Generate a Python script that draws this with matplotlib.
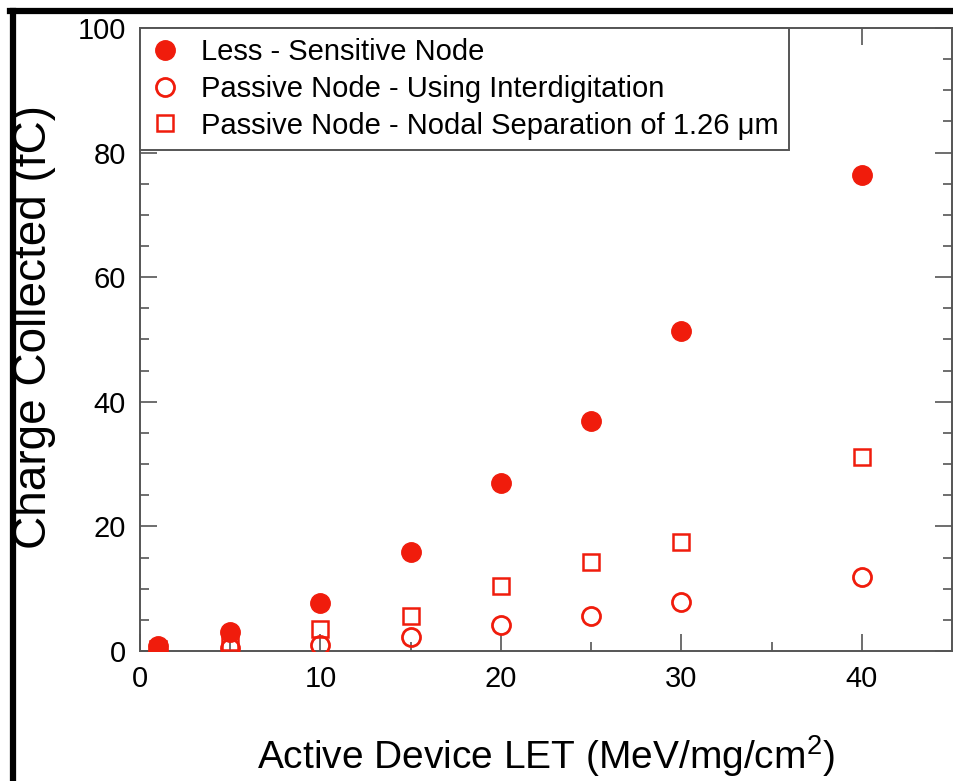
import matplotlib
matplotlib.use('Agg')
from matplotlib import pyplot as plt
from matplotlib.lines import Line2D

plt.rcParams['font.family'] = ['Liberation Sans', 'DejaVu Sans']
plt.rcParams['mathtext.default'] = 'regular'

# data
let = [1, 5, 10, 15, 20, 25, 30, 40]
less_sensitive = [0.8, 3.0, 7.7, 15.9, 27.0, 36.9, 51.4, 76.4]
interdigitation = [0.0, 0.5, 1.0, 2.3, 4.2, 5.6, 7.8, 11.8]
nodal_sep = [0.3, 1.5, 3.5, 5.6, 10.5, 14.3, 17.5, 31.2]

red = '#f01c0c'
grey = '#555555'

fig = plt.figure(figsize=(9.54, 7.81), dpi=100)
ax = fig.add_axes([140 / 954, 1 - 651 / 781, 812 / 954, 623 / 781])

ax.plot(let, less_sensitive, 'o', color=red, markersize=14, linestyle='none',
        label='Less - Sensitive Node', zorder=3)
ax.plot(let, interdigitation, 'o', markerfacecolor='none', markeredgecolor=red,
        markeredgewidth=2, markersize=13, linestyle='none',
        label='Passive Node - Using Interdigitation', zorder=3)
ax.plot(let, nodal_sep, 's', markerfacecolor='none', markeredgecolor=red,
        markeredgewidth=1.8, markersize=11.5, linestyle='none',
        label='Passive Node - Nodal Separation of 1.26 \u03bcm', zorder=3)

ax.set_xlim(0, 45)
ax.set_ylim(0, 100)
ax.set_xticks([0, 10, 20, 30, 40])
ax.set_xticks([5, 15, 25, 35], minor=True)
ax.set_yticks([0, 20, 40, 60, 80, 100])
ax.set_yticks([v for v in range(5, 100, 5) if v % 20], minor=True)

ax.tick_params(which='both', direction='in', top=True, right=True,
               color=grey, width=1.2)
ax.tick_params(which='major', length=12, labelsize=21, pad=10)
ax.tick_params(which='minor', length=6.5)

for s in ax.spines.values():
    s.set_color(grey)
    s.set_linewidth(1.4)

ax.set_ylabel('Charge Collected (fC)', fontsize=33)
ax.yaxis.set_label_coords(-0.104, 0.52)
ax.set_xlabel(r'Active Device LET (MeV/mg/cm$^2$)', fontsize=28)
ax.xaxis.set_label_coords(0.5, -0.132)

leg = ax.legend(loc='upper left', bbox_to_anchor=(0, 1), borderaxespad=0,
                fontsize=21, fancybox=False, framealpha=1, handletextpad=0.75,
                borderpad=0.35, labelspacing=0.3, handlelength=1.0)
leg.get_frame().set_edgecolor(grey)
leg.get_frame().set_linewidth(1.4)

# black frame along the top and left edge of the picture
fig.add_artist(Line2D([10 / 954, 1], [1 - 11 / 781] * 2, color='black', lw=4.5))
fig.add_artist(Line2D([13 / 954] * 2, [0, 1 - 11 / 781], color='black', lw=4.5))

fig.savefig('out.png', dpi=100)
